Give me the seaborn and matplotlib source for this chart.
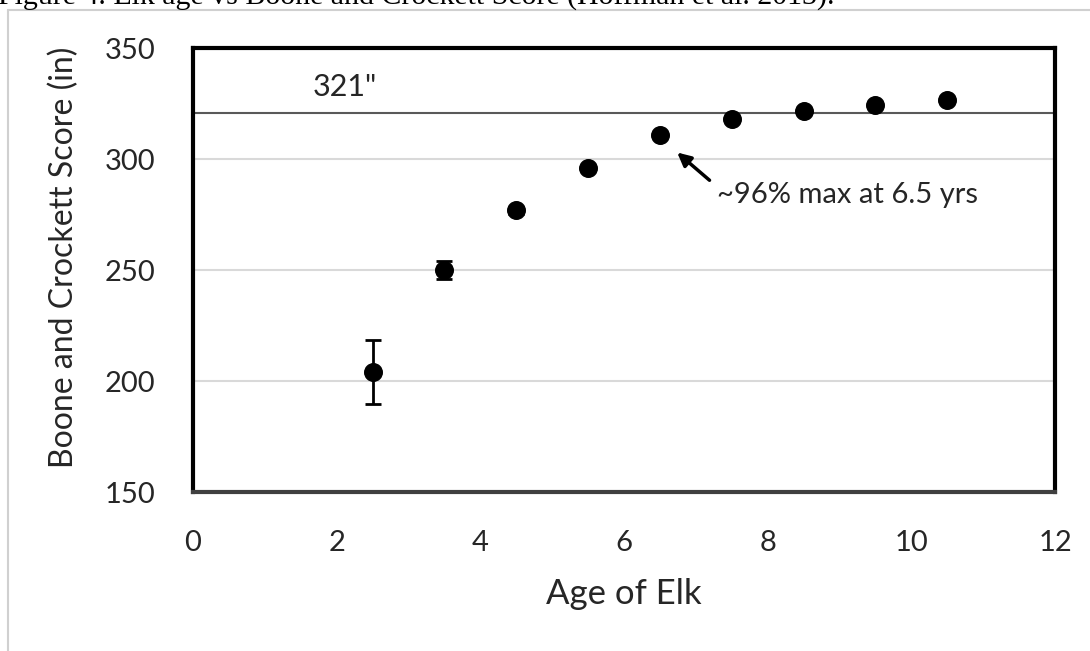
import matplotlib
matplotlib.use("Agg")
import matplotlib.pyplot as plt
import seaborn as sns
import pandas as pd
from matplotlib.lines import Line2D

# data
age = [2.5, 3.5, 4.5, 5.5, 6.5, 7.5, 8.5, 9.5, 10.5]
score = [204, 250, 277, 296, 311, 318, 321.5, 324.5, 326.5]
err = [14.5, 4, 1.5, 1, 0.5, 0.5, 0.5, 0.5, 0.5]
max_line = 321
x_ticks = [0, 2, 4, 6, 8, 10, 12]
y_ticks = [150, 200, 250, 300, 350]

sns.set_theme(style="white")
plt.rcParams['font.family'] = ['Lato', 'DejaVu Sans']

df = pd.DataFrame({"age": age, "score": score, "err": err})

fig = plt.figure(figsize=(10.9, 6.51), dpi=100)
ax = fig.add_axes([0.177, 0.244, 0.791, 0.682])

for y in [200, 250, 300]:
    ax.axhline(y, color="#d9d9d9", lw=1.5, zorder=0)
ax.axhline(max_line, color="#595959", lw=1.5, zorder=1)

ax.errorbar(df["age"], df["score"], yerr=df["err"], fmt="none", ecolor="black",
            elinewidth=2, capsize=5.5, capthick=2, zorder=2)
sns.scatterplot(data=df, x="age", y="score", ax=ax, color="black", s=160,
                edgecolor="black", zorder=3, legend=False)

ax.set_xlim(0, 12)
ax.set_ylim(150, 350)
ax.set_xticks(x_ticks)
ax.set_yticks(y_ticks)
ax.tick_params(axis="both", labelsize=21, length=0, colors="#262626")
ax.tick_params(axis="x", pad=27)
ax.tick_params(axis="y", pad=27)
ax.set_xlabel("Age of Elk", fontsize=25, color="#262626", labelpad=16)
ax.set_ylabel("Boone and Crockett Score (in)", fontsize=23, color="#262626")
ax.yaxis.set_label_coords(-0.132, 0.53)

for s in ["left", "top", "right"]:
    ax.spines[s].set_color("black")
    ax.spines[s].set_linewidth(3)
ax.spines["bottom"].set_color("#404040")
ax.spines["bottom"].set_linewidth(3)

ax.text(1.67, 326.3, '321"', fontsize=22, color="#262626", ha="left", va="bottom")
ax.annotate("", xy=(6.74, 303), xytext=(7.19, 290.5),
            arrowprops=dict(arrowstyle="-|>", color="black", lw=2.5,
                            shrinkA=0, shrinkB=0, mutation_scale=20))
ax.text(7.3, 284, "~96% max at 6.5 yrs", fontsize=21, color="#262626",
        ha="left", va="center")

# frame and cut-off caption
fig.add_artist(Line2D([8/1090, 8/1090], [0, 1-10/651], color="#d0d0d0", lw=1.5,
                      transform=fig.transFigure))
fig.add_artist(Line2D([8/1090, 1], [1-10/651, 1-10/651], color="#d0d0d0", lw=1.5,
                      transform=fig.transFigure))
fig.text(-2/1090, 1-5/651, "Figure 4. Elk age vs Boone and Crockett Score (Hoffman et al. 2013).",
         fontsize=21.5, family=["Liberation Serif"], color="black", ha="left", va="baseline")

fig.savefig("out.png", dpi=100, facecolor="white")
